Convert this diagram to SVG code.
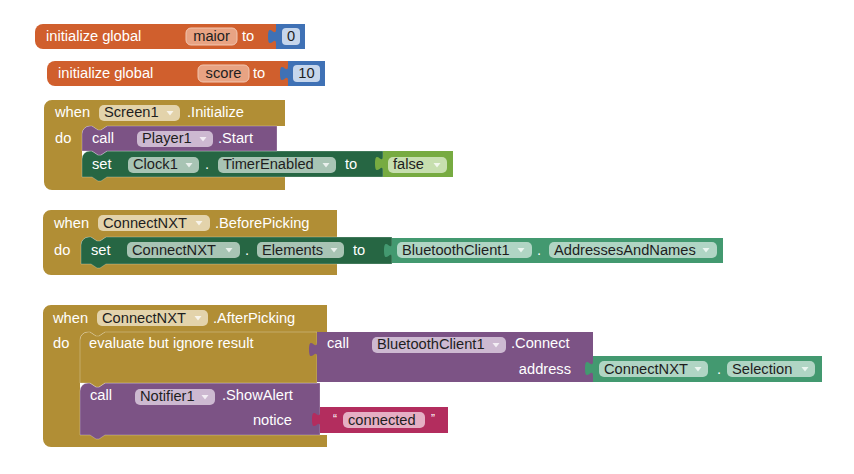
<svg xmlns="http://www.w3.org/2000/svg" width="854" height="474" viewBox="0 0 854 474">
<style>
text{font-family:"Liberation Sans",Arial,sans-serif;font-size:14.67px}
.l{fill:#fff}
.f{fill:#1e1e1e}
.m{text-anchor:middle}
.e{text-anchor:end}
.hl{stroke:#fff;stroke-opacity:.25;stroke-width:1}
.var{fill:#D05F2D}.varf{fill:#E8A383;stroke:#F2C6B0;stroke-width:1}
.math{fill:#3F71B5}.mathf{fill:#C6D6EC}
.ev{fill:#B18E35}.evf{fill:#E3D3AB}
.pr{fill:#7C5385}.prf{fill:#CDB9D1}
.st{fill:#266643}.stf{fill:#A8C4B4}
.gt{fill:#439970}.gtf{fill:#B0D5C4}
.lg{fill:#77AB41}.lgf{fill:#C7DFAF}
.tx{fill:#B32D5E}.txf{fill:#E5AFC4}
.ar{fill:#fff;fill-opacity:.75}
.q{font-size:12px;fill:#fff}
</style>

<g id="init-maior">
<path class="var" d="M35,32 A8,8 0 0 1 43,24 H276 V49 H43 A8,8 0 0 1 35,41 Z"/>
<text class="l" x="46" y="41">initialize global</text>
<rect class="varf" x="186" y="28" width="51" height="17" rx="5"/>
<text class="f m" x="211.5" y="41">maior</text>
<text class="l" x="242" y="41">to</text>
<path class="math" d="M276,24 H305 V49 H276 V44 c0,-10 -8,8 -8,-7.5 s8,2.5 8,-7.5 Z"/>
<rect class="mathf" x="282" y="28" width="18" height="17" rx="4"/>
<text class="f m" x="291" y="41">0</text>
</g>

<g id="init-score">
<path class="var" d="M47,69 A8,8 0 0 1 55,61 H288 V86 H55 A8,8 0 0 1 47,78 Z"/>
<text class="l" x="58" y="78">initialize global</text>
<rect class="varf" x="198" y="65" width="51" height="17" rx="5"/>
<text class="f m" x="223.5" y="78">score</text>
<text class="l" x="253" y="78">to</text>
<path class="math" d="M288,61 H325 V86 H288 V81 c0,-10 -8,8 -8,-7.5 s8,2.5 8,-7.5 Z"/>
<rect class="mathf" x="293" y="65" width="27" height="17" rx="4"/>
<text class="f m" x="306.5" y="78">10</text>
</g>

<g id="screen1-initialize">
<path class="ev" d="M44,108 A8,8 0 0 1 52,100 H285 V126 H107 l-6,4 h-3 l-6,-4 H90 A8,8 0 0 0 82,134 V169 A8,8 0 0 0 90,177 H285 V190 H52 A8,8 0 0 1 44,182 Z"/>
<text class="l" x="55" y="117">when</text>
<rect class="evf" x="99" y="105" width="81" height="16" rx="5"/>
<text class="f" x="104" y="117">Screen1</text>
<polygon class="ar" points="166.5,111 173.5,111 170,115.5"/>
<text class="l" x="187" y="117">.Initialize</text>
<text class="l" x="55" y="143">do</text>
<g id="set-clock1">
<path class="st hl" d="M82,159 A8,8 0 0 1 90,151 H92 l6,4 h3 l6,-4 H383 V177 H107 l-6,4 h-3 l-6,-4 H82 Z"/>
<text class="l" x="92" y="169">set</text>
<rect class="stf" x="128" y="157" width="71" height="16" rx="5"/>
<text class="f" x="133" y="169">Clock1</text>
<polygon class="ar" points="185.5,163 192.5,163 189,167.5"/>
<text class="l" x="205" y="169">.</text>
<rect class="stf" x="218" y="157" width="118" height="16" rx="5"/>
<text class="f" x="223" y="169">TimerEnabled</text>
<polygon class="ar" points="322.5,163 329.5,163 326,167.5"/>
<text class="l" x="345" y="169">to</text>
<path class="lg" d="M383,151 H453 V177 H383 V171 c0,-10 -8,8 -8,-7.5 s8,2.5 8,-7.5 Z"/>
<rect class="lgf" x="388" y="157" width="59" height="16" rx="5"/>
<text class="f" x="393" y="169">false</text>
<polygon class="ar" points="433.5,163 440.5,163 437,167.5"/>
</g>
<g id="call-player1">
<path class="pr hl" d="M82,134 A8,8 0 0 1 90,126 H92 l6,4 h3 l6,-4 H277 V151 H107 l-6,4 h-3 l-6,-4 H82 Z"/>
<text class="l" x="92" y="143">call</text>
<rect class="prf" x="137" y="131" width="76" height="16" rx="5"/>
<text class="f" x="142" y="143">Player1</text>
<polygon class="ar" points="199.5,137 206.5,137 203,141.5"/>
<text class="l" x="218" y="143">.Start</text>
</g>
</g>

<g id="connectnxt-beforepicking">
<path class="ev" d="M43,218 A8,8 0 0 1 51,210 H337 V237 H106 l-6,4 h-3 l-6,-4 H89 A8,8 0 0 0 81,245 V256 A8,8 0 0 0 89,264 H337 V275 H51 A8,8 0 0 1 43,267 Z"/>
<text class="l" x="54" y="228">when</text>
<rect class="evf" x="98" y="215" width="112" height="16" rx="5"/>
<text class="f" x="103" y="228">ConnectNXT</text>
<polygon class="ar" points="195.5,221 202.5,221 199,225.5"/>
<text class="l" x="215" y="228">.BeforePicking</text>
<text class="l" x="54" y="255">do</text>
<g id="set-connectnxt-elements">
<path class="st hl" d="M81,245 A8,8 0 0 1 89,237 H91 l6,4 h3 l6,-4 H392 V264 H106 l-6,4 h-3 l-6,-4 H81 Z"/>
<text class="l" x="91" y="255">set</text>
<rect class="stf" x="127" y="242" width="113" height="16" rx="5"/>
<text class="f" x="132" y="255">ConnectNXT</text>
<polygon class="ar" points="225.5,248 232.5,248 229,252.5"/>
<text class="l" x="245" y="255">.</text>
<rect class="stf" x="257" y="242" width="87" height="16" rx="5"/>
<text class="f" x="262" y="255">Elements</text>
<polygon class="ar" points="330.5,248 337.5,248 334,252.5"/>
<text class="l" x="353" y="255">to</text>
</g>
<g id="get-bluetoothclient1-addresses">
<path class="gt" d="M392,238 H723 V263 H392 V258 c0,-10 -8,8 -8,-7.5 s8,2.5 8,-7.5 Z"/>
<rect class="gtf" x="397" y="242" width="135" height="16" rx="5"/>
<text class="f" x="402" y="255">BluetoothClient1</text>
<polygon class="ar" points="517.5,248 524.5,248 521,252.5"/>
<text class="l" x="537" y="255">.</text>
<rect class="gtf" x="549" y="242" width="168" height="16" rx="5"/>
<text class="f" x="554" y="255">AddressesAndNames</text>
<polygon class="ar" points="702.5,248 709.5,248 706,252.5"/>
</g>
</g>

<g id="connectnxt-afterpicking">
<path class="ev" d="M43,313 A8,8 0 0 1 51,305 H327 V332 H105 l-6,4 h-3 l-6,-4 H88 A8,8 0 0 0 80,340 V427 A8,8 0 0 0 88,435 H327 V447 H51 A8,8 0 0 1 43,439 Z"/>
<text class="l" x="53" y="323">when</text>
<rect class="evf" x="97" y="310" width="111" height="16" rx="5"/>
<text class="f" x="102" y="323">ConnectNXT</text>
<polygon class="ar" points="194.5,316 201.5,316 198,320.5"/>
<text class="l" x="213" y="323">.AfterPicking</text>
<text class="l" x="53" y="348">do</text>
<g id="show-alert">
<path class="pr hl" d="M80,391 A8,8 0 0 1 88,383 H90 l6,4 h3 l6,-4 H320 V435 H105 l-6,4 h-3 l-6,-4 H80 Z"/>
<text class="l" x="90" y="400">call</text>
<rect class="prf" x="135" y="389" width="80" height="16" rx="5"/>
<text class="f" x="140" y="401">Notifier1</text>
<polygon class="ar" points="201.5,395 208.5,395 205,399.5"/>
<text class="l" x="222" y="400">.ShowAlert</text>
<text class="l e" x="292" y="425">notice</text>
<path class="tx" d="M320,407 H448 V433 H320 V427 c0,-10 -8,8 -8,-7.5 s8,2.5 8,-7.5 Z"/>
<text class="q" x="333" y="423">“</text>
<rect class="txf" x="343" y="412" width="82" height="16" rx="5"/>
<text class="f" x="348" y="425">connected</text>
<text class="q" x="431" y="423">”</text>
</g>
<g id="evaluate">
<path class="ev hl" d="M80,340 A8,8 0 0 1 88,332 H90 l6,4 h3 l6,-4 H317 V383 H105 l-6,4 h-3 l-6,-4 H80 Z"/>
<text class="l" x="89" y="348">evaluate but ignore result</text>
</g>
<g id="call-connect">
<path class="pr" d="M317,332 H593 V382 H317 V357 c0,-10 -8,8 -8,-7.5 s8,2.5 8,-7.5 Z"/>
<text class="l" x="327" y="348">call</text>
<rect class="prf" x="372" y="337" width="134" height="16" rx="5"/>
<text class="f" x="377" y="349">BluetoothClient1</text>
<polygon class="ar" points="492.5,343 499.5,343 496,347.5"/>
<text class="l" x="511" y="348">.Connect</text>
<text class="l e" x="571" y="374">address</text>
</g>
<g id="get-connectnxt-selection">
<path class="gt" d="M593,356 H822 V382 H593 V376 c0,-10 -8,8 -8,-7.5 s8,2.5 8,-7.5 Z"/>
<rect class="gtf" x="599" y="361" width="109" height="16" rx="5"/>
<text class="f" x="604" y="374">ConnectNXT</text>
<polygon class="ar" points="694.5,367 701.5,367 698,371.5"/>
<text class="l" x="717" y="374">.</text>
<rect class="gtf" x="727" y="361" width="88" height="16" rx="5"/>
<text class="f" x="732" y="374">Selection</text>
<polygon class="ar" points="801.5,367 808.5,367 805,371.5"/>
</g>
</g>
</svg>
